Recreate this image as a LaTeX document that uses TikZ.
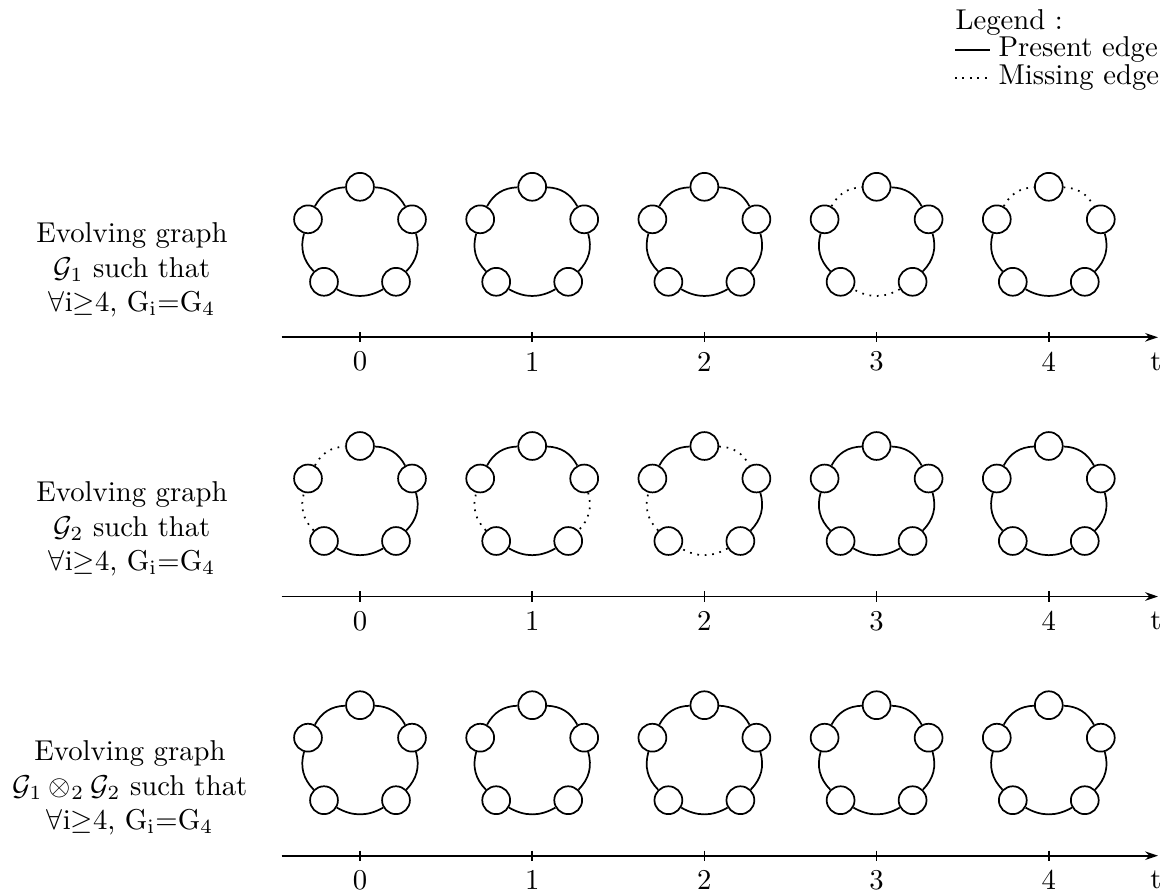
\documentclass[tikz,border=0pt]{standalone}
\usetikzlibrary{arrows.meta}
\newcommand\evgraph[8]{%
  \node[vtx] (#1a) at (#2, #3-53) {};
  \node[vtx] (#1b) at (#2+52, #3-20.5) {};
  \node[vtx] (#1c) at (#2+36, #3+42) {};
  \node[vtx] (#1d) at (#2-36, #3+42) {};
  \node[vtx] (#1e) at (#2-52, #3-20.5) {};
  \draw[#4] (#1a) to[bend left=30] (#1b);
  \draw[#5] (#1b) to[bend left=30] (#1c);
  \draw[#6] (#1c) to[bend left=30] (#1d);
  \draw[#7] (#1d) to[bend left=30] (#1e);
  \draw[#8] (#1e) to[bend left=30] (#1a);
}
\newcommand\timeaxis[2]{%
  \coordinate (#1s) at (281.7,#2);
  \coordinate (#1e) at (1158,#2);
  \draw[axisline] (#1s) -- (#1e);
  \foreach \k/\xx in {0/360,1/532.2,2/704.4,3/876.6,4/1048.8}{
    \coordinate (#1t\k) at (\xx,#2);
    \draw[tickline] ([yshift=1.75pt]#1t\k) -- ([yshift=-1.75pt]#1t\k);
    \node (#1n\k) at (\xx,#2+24.4) {\k};
  }
  \node (#1tt) at (1156,#2+24.2) {t};
}
\begin{document}
\begin{tikzpicture}[x=0.3484pt,y=-0.3484pt,
  vtx/.style={circle,draw,line width=0.6pt,minimum size=9.7pt,inner sep=0pt},
  pres/.style={line width=0.6pt},
  miss/.style={line width=0.6pt,dotted},
  axisline/.style={line width=0.6pt,-{Stealth[length=4.5pt,width=3pt]}},
  tickline/.style={line width=0.6pt},
  lbl/.style={align=center}]
\useasboundingbox (0,0) rectangle (1168,894);

% legend
\node[anchor=base west,inner sep=0pt] (legt) at (955,29) {Legend :};
\coordinate (lp1) at (955,50);
\coordinate (lp2) at (990,50);
\draw[pres] (lp1) -- (lp2);
\node[anchor=base west,inner sep=0pt] (legp) at (998,56.5) {Present edge};
\coordinate (lm1) at (955,78);
\coordinate (lm2) at (990,78);
\draw[miss] (lm1) -- (lm2);
\node[anchor=base west,inner sep=0pt] (legm) at (998,84.5) {Missing edge};

% row labels
\node[lbl] (lab1) at (132,270) {Evolving graph\\ $\mathcal{G}_1$ such that\\ $\forall$i$\geq$4, G$_{\mathrm{i}}$=G$_4$};
\node[lbl] (lab2) at (132,529) {Evolving graph\\ $\mathcal{G}_2$ such that\\ $\forall$i$\geq$4, G$_{\mathrm{i}}$=G$_4$};
\node[lbl] (lab3) at (130,788) {Evolving graph\\ $\mathcal{G}_1 \otimes_2 \mathcal{G}_2$ such that\\ $\forall$i$\geq$4, G$_{\mathrm{i}}$=G$_4$};

% row 1
\evgraph{ra0}{360}{239.8}{pres}{pres}{pres}{pres}{pres}
\evgraph{ra1}{532.2}{239.8}{pres}{pres}{pres}{pres}{pres}
\evgraph{ra2}{704.4}{239.8}{pres}{pres}{pres}{pres}{pres}
\evgraph{ra3}{876.6}{239.8}{pres}{pres}{miss}{pres}{miss}
\evgraph{ra4}{1048.8}{239.8}{miss}{pres}{pres}{pres}{miss}
\timeaxis{xa}{337.3}

% row 2
\evgraph{rb0}{360}{499}{pres}{pres}{pres}{miss}{miss}
\evgraph{rb1}{532.2}{499}{pres}{miss}{pres}{miss}{pres}
\evgraph{rb2}{704.4}{499}{miss}{pres}{miss}{miss}{pres}
\evgraph{rb3}{876.6}{499}{pres}{pres}{pres}{pres}{pres}
\evgraph{rb4}{1048.8}{499}{pres}{pres}{pres}{pres}{pres}
\timeaxis{xb}{596.5}

% row 3
\evgraph{rc0}{360}{758.2}{pres}{pres}{pres}{pres}{pres}
\evgraph{rc1}{532.2}{758.2}{pres}{pres}{pres}{pres}{pres}
\evgraph{rc2}{704.4}{758.2}{pres}{pres}{pres}{pres}{pres}
\evgraph{rc3}{876.6}{758.2}{pres}{pres}{pres}{pres}{pres}
\evgraph{rc4}{1048.8}{758.2}{pres}{pres}{pres}{pres}{pres}
\timeaxis{xc}{855.7}
\end{tikzpicture}
\end{document}
